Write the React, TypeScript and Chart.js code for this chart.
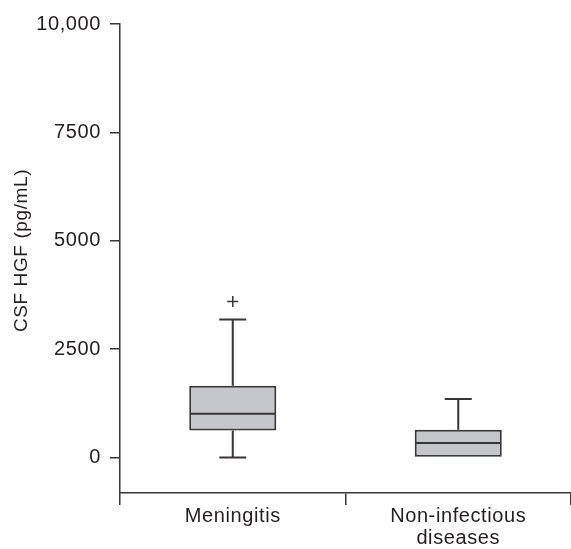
import React, { useEffect, useRef } from 'react';
import { Chart, registerables } from 'chart.js';

Chart.register(...registerables);

// ---- data ----
const categories: string[][] = [['Meningitis'], ['Non-infectious', 'diseases']];
const q1Values = [623, 0];
const medianValues = [1008, 332];
const q3Values = [1653, 639];
const minValues = [0, 0];
const maxValues = [3182, 1347];
const outlierValues: (number | null)[] = [3597, null];
const yTickValues = [0, 2500, 5000, 7500, 10000];
const yTitle = 'CSF HGF (pg/mL)';

// ---- style ----
const LINE = '#3a3536';
const TEXT = '#231f20';
const FILL = '#c5c6cb';
const FONT = "'Liberation Sans', Arial, Helvetica, sans-serif";

const setSpacing = (chart: any) => {
  try { chart.ctx.letterSpacing = '0.6px'; } catch (e) { /* ignore */ }
};

const spacingPlugin = {
  id: 'letterSpacing',
  beforeUpdate: setSpacing,
  beforeLayout: setSpacing,
  beforeDraw: setSpacing,
};

const boxPartsPlugin = {
  id: 'boxParts',
  afterDatasetsDraw(chart: any) {
    const meta = chart.getDatasetMeta(0);
    const ys = chart.scales.y;
    const ctx = chart.ctx;
    ctx.save();
    ctx.strokeStyle = LINE;
    ctx.lineWidth = 2;
    meta.data.forEach((bar: any, i: number) => {
      const { x, width } = bar.getProps(['x', 'width'], true);
      const half = width / 2;
      const capHalf = width * 0.155;
      const yMed = ys.getPixelForValue(medianValues[i]);
      const yQ1 = ys.getPixelForValue(q1Values[i]);
      const yQ3 = ys.getPixelForValue(q3Values[i]);
      ctx.beginPath();
      ctx.moveTo(x - half + 1, yMed);
      ctx.lineTo(x + half - 1, yMed);
      if (maxValues[i] > q3Values[i]) {
        const yMax = ys.getPixelForValue(maxValues[i]);
        ctx.moveTo(x, yQ3);
        ctx.lineTo(x, yMax);
        ctx.moveTo(x - capHalf, yMax);
        ctx.lineTo(x + capHalf, yMax);
      }
      if (minValues[i] < q1Values[i]) {
        const yMin = ys.getPixelForValue(minValues[i]);
        ctx.moveTo(x, yQ1);
        ctx.lineTo(x, yMin);
        ctx.moveTo(x - capHalf, yMin);
        ctx.lineTo(x + capHalf, yMin);
      }
      ctx.stroke();
    });
    ctx.restore();
  },
};

const yTitlePlugin = {
  id: 'yTitle',
  afterDraw(chart: any) {
    const ctx = chart.ctx;
    ctx.save();
    ctx.translate(22, 250.5);
    ctx.rotate(-Math.PI / 2);
    ctx.font = `19px ${FONT}`;
    ctx.fillStyle = TEXT;
    ctx.textAlign = 'center';
    ctx.textBaseline = 'middle';
    ctx.fillText(yTitle, 0, 0);
    ctx.restore();
  },
};

export default function App() {
  const ref = useRef<HTMLCanvasElement | null>(null);

  useEffect(() => {
    if (!ref.current) return;
    const chart = new Chart(ref.current, {
      type: 'bar',
      data: {
        labels: categories as any,
        datasets: [
          {
            type: 'bar',
            data: q1Values.map((q1, i) => [q1, q3Values[i]]) as any,
            backgroundColor: FILL,
            borderColor: LINE,
            borderWidth: 2,
            borderSkipped: false,
            barPercentage: 0.386,
            categoryPercentage: 1,
          } as any,
          {
            type: 'line',
            data: outlierValues as any,
            showLine: false,
            pointStyle: 'cross',
            pointRadius: 5.5,
            pointBorderWidth: 1.5,
            borderColor: LINE,
            backgroundColor: LINE,
          } as any,
        ],
      },
      options: {
        responsive: false,
        animation: false,
        layout: { autoPadding: false, padding: { top: 24, left: 0, right: 0, bottom: 0 } },
        plugins: { legend: { display: false }, tooltip: { enabled: false } },
        scales: {
          x: {
            type: 'category',
            offset: true,
            grid: {
              offset: true,
              drawOnChartArea: false,
              drawTicks: true,
              tickLength: 12,
              color: LINE,
              lineWidth: 1.5,
            },
            border: { display: true, color: LINE, width: 1.5 },
            ticks: {
              color: TEXT,
              padding: 0,
              maxRotation: 0,
              autoSkip: false,
              font: { family: FONT, size: 20, lineHeight: 1.1 },
            },
            afterFit(scale: any) {
              scale.height = 56;
              scale.paddingLeft = 0;
              scale.paddingRight = 0;
            },
          },
          y: {
            type: 'linear',
            min: -820,
            max: 10000,
            grid: {
              drawOnChartArea: false,
              drawTicks: true,
              tickLength: 10,
              color: LINE,
              lineWidth: 1.5,
            },
            border: { display: true, color: LINE, width: 1.5 },
            afterBuildTicks(scale: any) {
              scale.ticks = yTickValues.map((v) => ({ value: v }));
            },
            ticks: {
              color: TEXT,
              padding: 9,
              font: { family: FONT, size: 20 },
              callback: (v: any) => (Number(v) >= 10000 ? Number(v).toLocaleString('en-US') : String(v)),
            },
            afterFit(scale: any) {
              scale.width = 120;
            },
          },
        },
      } as any,
      plugins: [spacingPlugin, boxPartsPlugin, yTitlePlugin],
    });
    return () => chart.destroy();
  }, []);

  return (
    <div style={{ position: 'fixed', left: 0, top: 0, width: 571, height: 549, background: '#fff' }}>
      <canvas ref={ref} width={571} height={549} style={{ display: 'block' }} />
    </div>
  );
}
